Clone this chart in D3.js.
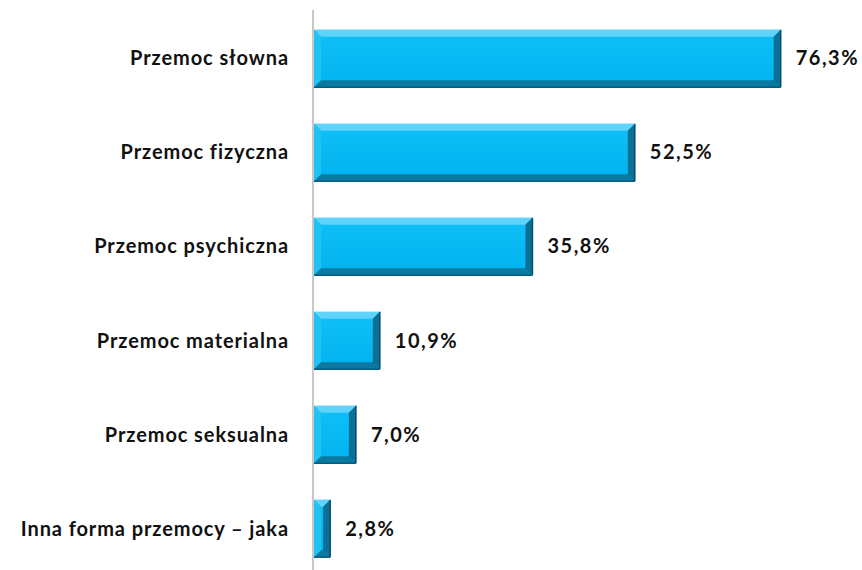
<!DOCTYPE html>
<html>
<head>
<meta charset="utf-8">
<script src="https://cdn.jsdelivr.net/npm/d3@7"></script>
<style>
  body { margin: 0; background: #fff; }
  svg text { font-family: Lato, "Open Sans", sans-serif; font-weight: bold; fill: #111; }
</style>
</head>
<body>
<div class="chart"></div>
<script>
// data
var categories = ["Przemoc słowna", "Przemoc fizyczna", "Przemoc psychiczna", "Przemoc materialna", "Przemoc seksualna", "Inna forma przemocy – jaka"];
var values = [76.3, 52.5, 35.8, 10.9, 7.0, 2.8];
var valueLabels = ["76,3%", "52,5%", "35,8%", "10,9%", "7,0%", "2,8%"];

var width = 862, height = 570;
var x0 = 313;

var svg = d3.select(".chart").append("svg")
    .attr("width", width)
    .attr("height", height);

var x = d3.scaleLinear().domain([0, 100]).range([x0, x0 + 613]);
var y = d3.scaleBand().domain(categories).range([11, 576]).paddingInner(0.39).paddingOuter(0.2);

var defs = svg.append("defs");
var grad = defs.append("linearGradient").attr("id", "face").attr("x1", 0).attr("y1", 0).attr("x2", 0).attr("y2", 1);
grad.append("stop").attr("offset", "0%").attr("stop-color", "#10c0f8");
grad.append("stop").attr("offset", "100%").attr("stop-color", "#00b2ee");

// axis line
svg.append("line")
    .attr("x1", x0).attr("x2", x0)
    .attr("y1", 10).attr("y2", height)
    .attr("stroke", "#c8c8c8")
    .attr("stroke-width", 2);

var b = 7; // bevel size

var bars = svg.selectAll("g.bar")
    .data(categories)
    .enter().append("g")
    .attr("class", "bar");

bars.each(function(d, i) {
  var g = d3.select(this);
  var l = x(0) + 1, r = x(values[i]), t = y(d), bt = y(d) + y.bandwidth();
  var bb = Math.min(b, (r - l) / 2);
  // face
  g.append("rect")
    .attr("x", l).attr("y", t)
    .attr("width", r - l).attr("height", bt - t)
    .attr("fill", "url(#face)");
  // top bevel
  g.append("polygon")
    .attr("points", [[l, t], [r, t], [r - bb, t + bb], [l + bb, t + bb]].join(" "))
    .attr("fill", "#5fd3fa");
  // left bevel
  g.append("polygon")
    .attr("points", [[l, t], [l + bb, t + bb], [l + bb, bt - bb], [l, bt]].join(" "))
    .attr("fill", "#22c2f5");
  // bottom bevel
  g.append("polygon")
    .attr("points", [[l, bt], [l + bb, bt - bb], [r - bb, bt - bb], [r, bt]].join(" "))
    .attr("fill", "#0a7aa3");
  // right bevel
  g.append("polygon")
    .attr("points", [[r, t], [r - bb, t + bb], [r - bb, bt - bb], [r, bt]].join(" "))
    .attr("fill", "#0b6f96");
  // dark outline edge
  g.append("line")
    .attr("x1", r).attr("x2", r).attr("y1", t).attr("y2", bt)
    .attr("stroke", "#064e6b").attr("stroke-width", 1.5);
  g.append("line")
    .attr("x1", l).attr("x2", r).attr("y1", bt).attr("y2", bt)
    .attr("stroke", "#075c7e").attr("stroke-width", 1.5);
});

// category labels
svg.selectAll("text.cat")
    .data(categories)
    .enter().append("text")
    .attr("class", "cat")
    .attr("x", 289)
    .attr("y", function(d) { return y(d) + y.bandwidth() / 2; })
    .attr("dy", "0.35em")
    .attr("text-anchor", "end")
    .style("font-size", "20px")
    .style("letter-spacing", "0.9px")
    .text(function(d) { return d; });

// value labels
svg.selectAll("text.val")
    .data(categories)
    .enter().append("text")
    .attr("class", "val")
    .attr("x", function(d, i) { return x(values[i]) + 15; })
    .attr("y", function(d) { return y(d) + y.bandwidth() / 2; })
    .attr("dy", "0.35em")
    .style("font-size", "20px")
    .style("letter-spacing", "1.5px")
    .text(function(d, i) { return valueLabels[i]; });
</script>
</body>
</html>
